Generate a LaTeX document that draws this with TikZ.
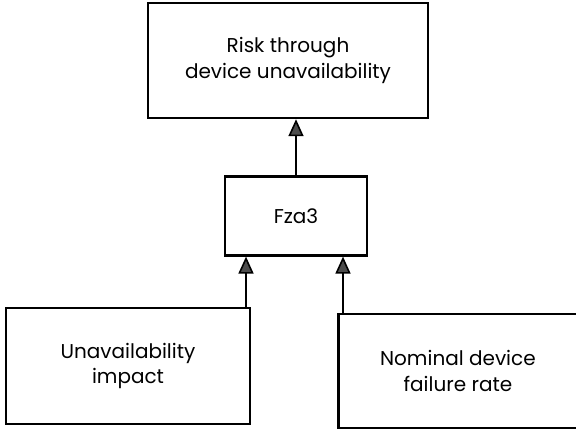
\documentclass[tikz,border=0pt]{standalone}
\usepackage{fontspec}
\setmainfont{Poppins}
\usetikzlibrary{arrows.meta}
\usetikzlibrary{positioning}

\tikzset{
    block/.style={draw, line width=2.4pt, align=center, inner sep=0pt,
        font=\fontsize{20}{25.5}\selectfont},
    arr/.style={line width=1.6pt, -{Triangle[length=17pt,width=15pt,fill=black!70]}}
}

\begin{document}
\begin{tikzpicture}[x=1pt,y=-1pt]

                    \useasboundingbox (0,0) rectangle (576,431);

                    \node[block, minimum width=280pt, minimum height=115pt] (risk) at (288,60.5) {Risk through\\device unavailability};
                    \node[block, minimum width=142pt, minimum height=79pt] (fza) [below = 56pt of risk, xshift=8pt] {Fza3};
                    \node[block, minimum width=244pt, minimum height=116pt] (unav) at (128,366) {Unavailability\\impact};
                    \node[block, minimum width=239pt, minimum height=114pt] (nom) [right = 86pt of unav, yshift=-5pt] {Nominal device\\failure rate};

                    \coordinate (in_0) at ([xshift=-50pt]fza.south);
                    \coordinate (in_1) at ([xshift=47pt]fza.south);

                    \draw[arr] (fza.north) -- (fza.north |- risk.south);
                    \draw[arr] (in_0 |- unav.north) -- (in_0);
                    \draw[arr] (in_1 |- nom.north) -- (in_1);

                \end{tikzpicture}
\end{document}
